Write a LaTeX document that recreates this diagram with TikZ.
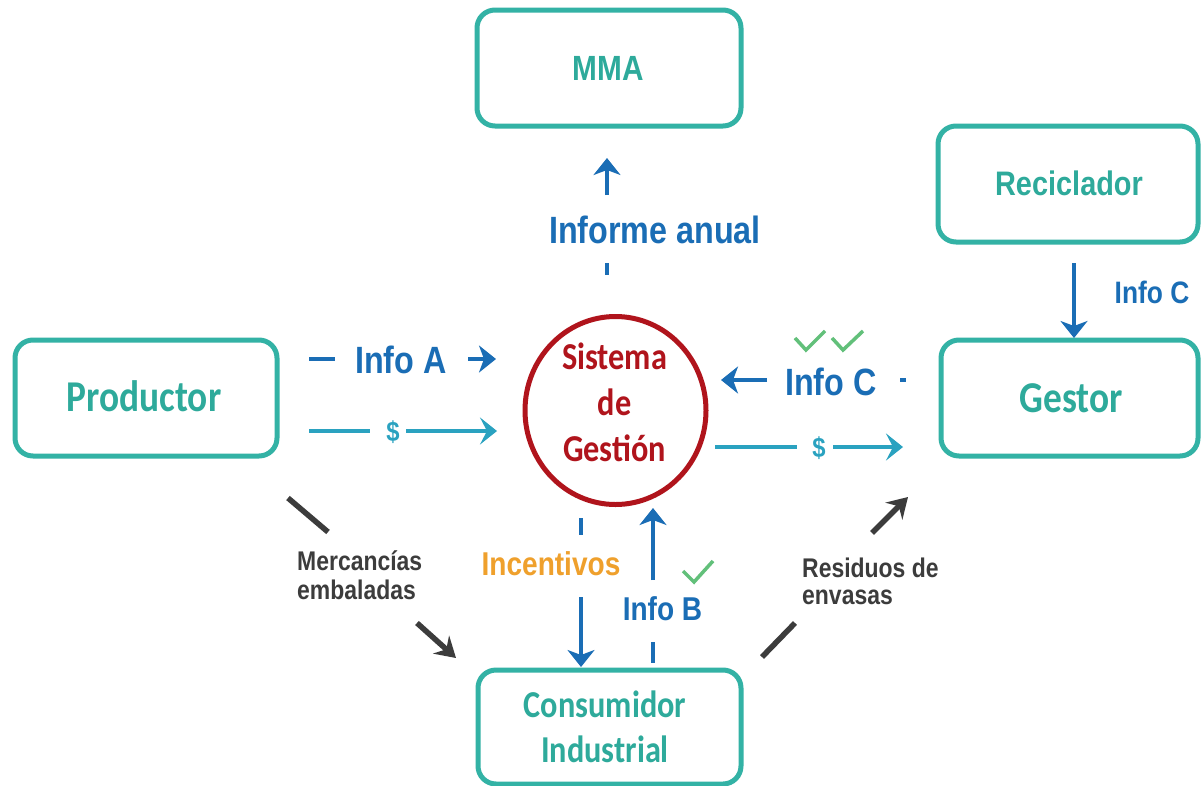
\documentclass[tikz,border=0pt]{standalone}
\usepackage{fontspec}
\usetikzlibrary{arrows.meta,shapes.geometric}
\newfontfamily\carl[FakeStretch=0.85]{Carlito}
\newfontfamily\libs[FakeStretch=0.85]{Liberation Sans}
\definecolor{tealbox}{HTML}{33B2A5}
\definecolor{tealtxt}{HTML}{2EAA9B}
\definecolor{blueA}{HTML}{1A6DB5}
\definecolor{cyanA}{HTML}{2AA2C0}
\definecolor{redA}{HTML}{B0141C}
\definecolor{orangeA}{HTML}{EFA02C}
\definecolor{greenA}{HTML}{62C07A}
\definecolor{grayA}{HTML}{3C3C3C}
\tikzset{
  box/.style={draw=tealbox, line width=5pt, rounded corners=18pt, inner sep=0pt},
  boxtxt/.style={text=tealtxt, inner sep=0pt},
  bl/.style={draw=blueA, line width=4.5pt},
  blarrow/.style={bl, -{Stealth[length=17pt,width=27pt,inset=5pt]}},
  cy/.style={draw=cyanA, line width=4pt},
  cyarrow/.style={cy, -{Stealth[length=17pt,width=27pt,inset=7pt]}},
  gr/.style={draw=grayA, line width=5.5pt},
  grarrow/.style={gr, -{Stealth[length=20pt,width=24pt,inset=7pt]}},
  chk/.style={draw=greenA, line width=3.5pt},
  bluetxt/.style={text=blueA, inner sep=0pt, anchor=base},
  graytxt/.style={text=grayA, inner sep=0pt, anchor=base west, font=\libs\bfseries\fontsize{27}{30}\selectfont},
}
\begin{document}
\begin{tikzpicture}[x=1pt,y=-1pt]
\useasboundingbox[fill=white] (0,0) rectangle (1202,785);

% boxes
\node[box, minimum width=264pt, minimum height=116pt] (mma) at (609,68) {};
\node[box, minimum width=260pt, minimum height=116pt] (rec) at (1068,184) {};
\node[box, minimum width=262pt, minimum height=116pt] (prod) at (146,398) {};
\node[box, minimum width=257pt, minimum height=116pt] (ges) at (1069.5,398) {};
\node[box, minimum width=263pt, minimum height=114pt] (cons) at (609.5,727) {};
\node[draw=redA, line width=5pt, ellipse, minimum width=181pt, minimum height=188pt, inner sep=0pt] (sg) at (615.5,410.5) {};

% box texts
\node[boxtxt, anchor=base, font=\libs\bfseries\fontsize{35}{40}\selectfont] (mmaT) at (608,80) {MMA};
\node[boxtxt, anchor=base, font=\libs\bfseries\fontsize{34}{40}\selectfont] (recT) at (1069,195) {Reciclador};
\node[boxtxt, anchor=base, font=\carl\bfseries\fontsize{44}{50}\selectfont] (prodT) at (144,411) {Productor};
\node[boxtxt, anchor=base, font=\carl\bfseries\fontsize{44}{50}\selectfont] (gesT) at (1071,412) {Gestor};
\node[boxtxt, align=center, font=\carl\bfseries\fontsize{38}{45}\selectfont] (consT) at (605,727) {Consumidor\\Industrial};
\node[text=redA, inner sep=0pt, align=center, font=\carl\bfseries\fontsize{38}{46}\selectfont] (sgT) at (614.5,402) {Sistema\\de\\Gestión};

% Informe anual (SG -> MMA)
\draw[bl] (607,263) -- (607,275);
\node[bluetxt, font=\libs\bfseries\fontsize{38}{44}\selectfont] (inf) at (655,243) {Informe anual};
\draw[blarrow] (607,195) -- (607,158);

% Info A (Productor -> SG)
\draw[bl] (309,359) -- (335,359);
\node[bluetxt, font=\libs\bfseries\fontsize{38}{44}\selectfont] (infoA) at (401,373) {Info A};
\draw[blarrow] (468,359) -- (496,359);

% $ (Productor -> SG)
\draw[cy] (309,431) -- (370,431);
\node[text=cyanA, inner sep=0pt, font=\libs\bfseries\fontsize{28}{30}\selectfont] (d1) at (393,432) {\$};
\draw[cyarrow] (406,431) -- (497,431);

% Info C (Gestor -> SG)
\draw[bl] (900,380) -- (906,380);
\node[bluetxt, font=\libs\bfseries\fontsize{38}{44}\selectfont] (infoC) at (831,395) {Info C};
\draw[blarrow] (767,380) -- (721,380);
\draw[chk] (795,338) -- (806,350) -- (825,331);
\draw[chk] (832,338) -- (843,350) -- (863,331);

% $ (SG -> Gestor)
\draw[cy] (715,447) -- (797,447);
\node[text=cyanA, inner sep=0pt, font=\libs\bfseries\fontsize{28}{30}\selectfont] (d2) at (819,448) {\$};
\draw[cyarrow] (833,447) -- (903,447);

% Info C (Reciclador -> Gestor)
\draw[blarrow] (1074,263) -- (1074,338);
\node[bluetxt, font=\libs\bfseries\fontsize{31}{36}\selectfont] (infoC2) at (1152,303) {Info C};

% Incentivos (SG -> Consumidor)
\draw[bl] (581,518) -- (581,535);
\node[text=orangeA, inner sep=0pt, anchor=base, font=\libs\bfseries\fontsize{33}{38}\selectfont] (inc) at (551,575) {Incentivos};
\draw[blarrow] (581,597) -- (581,667);

% Info B (Consumidor -> SG)
\draw[bl] (653,642) -- (653,663);
\node[bluetxt, font=\libs\bfseries\fontsize{33}{38}\selectfont] (infoB) at (662.5,620) {Info B};
\draw[blarrow] (653,580) -- (653,508);
\draw[chk] (683,571) -- (694,582) -- (713,561);

% Mercancias embaladas (Productor -> Consumidor)
\draw[gr] (288,498) -- (328,532);
\node[graytxt] (m1) at (297,570) {Mercancías};
\node[graytxt] (m2) at (297,599) {embaladas};
\draw[grarrow] (417,623) -- (456,658);

% Residuos de envasas (Consumidor -> Gestor)
\draw[gr] (762,657) -- (795,623);
\node[graytxt] (r1) at (802,577) {Residuos de};
\node[graytxt] (r2) at (802,604) {envasas};
\draw[grarrow] (872,533) -- (908,497);
\end{tikzpicture}
\end{document}
